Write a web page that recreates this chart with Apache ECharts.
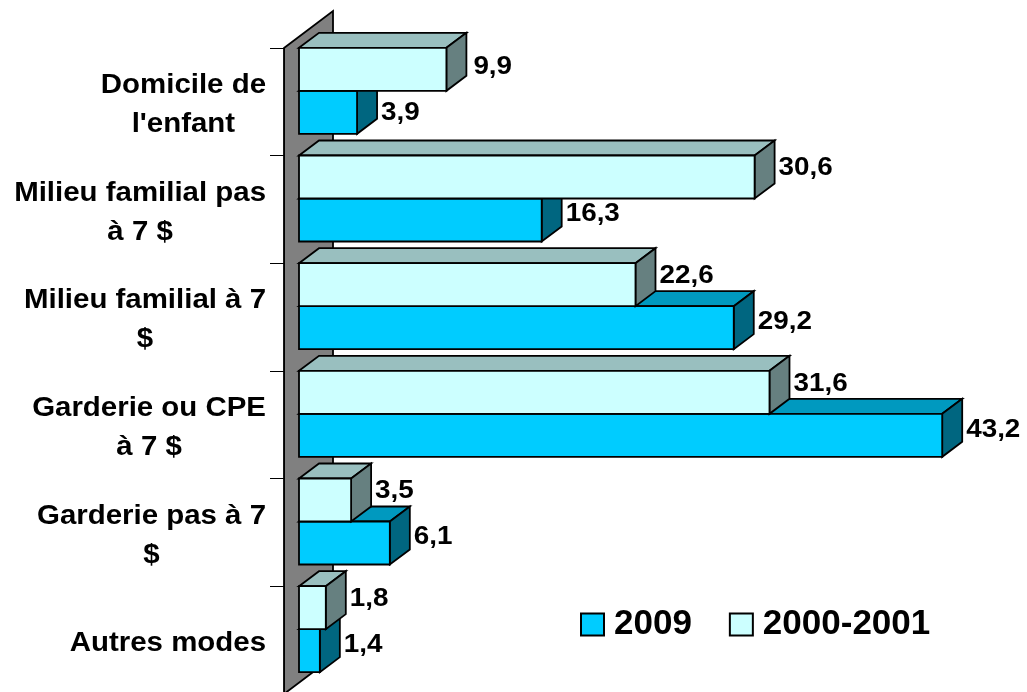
<!DOCTYPE html>
<html>
<head>
<meta charset="utf-8">
<style>
  html, body { margin: 0; padding: 0; background: #fff; }
  #chart { width: 1027px; height: 692px; }
</style>
<script src="https://cdn.jsdelivr.net/npm/echarts@6/dist/echarts.min.js"></script>
</head>
<body>
<div id="chart"></div>
<script>
const categories = ["Domicile de\nl'enfant", "Milieu familial pas\nà 7 $", "Milieu familial à 7\n$", "Garderie ou CPE\nà 7 $", "Garderie pas à 7\n$", "Autres modes"];
const values2009 = [3.9, 16.3, 29.2, 43.2, 6.1, 1.4];
const values2000 = [9.9, 30.6, 22.6, 31.6, 3.5, 1.8];

const FONT = '"Liberation Sans", Arial, sans-serif';
const DEPTH_X = 20, DEPTH_Y = -15;   // profondeur des barres
const BAR_H = 43;

const measure = document.createElement('canvas').getContext('2d');
measure.font = 'bold 27.5px ' + FONT;
const labelWidth = (txt) => Math.max(...txt.split('\n').map(l => measure.measureText(l).width));

const poly = (pts, fill) => ({
  type: 'polygon',
  shape: { points: pts },
  style: { fill: fill, stroke: '#000', lineWidth: 1.8, lineJoin: 'miter' }
});

// une barre 3D : front, dessus, cote + etiquette
const barSeries = (name, data, colors, barTop, labelShift) => ({
  name: name,
  type: 'custom',
  silent: true,
  clip: false,
  encode: { x: 0, y: 1 },
  data: data.map((v, i) => [v, i]),
  itemStyle: { color: colors.front, borderColor: '#000', borderWidth: 1.5 },
  renderItem: (params, api) => {
    const end = api.coord([api.value(0), api.value(1)]);
    const start = api.coord([0, api.value(1)]);
    const y0 = end[1] + barTop, y1 = y0 + BAR_H;
    const x0 = start[0], x1 = end[0];
    // les etiquettes du premier groupe sont un peu plus bas
    const first = api.value(1) === 0;
    return {
      type: 'group',
      children: [
        poly([[x0, y0], [x0 + DEPTH_X, y0 + DEPTH_Y], [x1 + DEPTH_X, y0 + DEPTH_Y], [x1, y0]], colors.top),
        poly([[x1, y0], [x1 + DEPTH_X, y0 + DEPTH_Y], [x1 + DEPTH_X, y1 + DEPTH_Y], [x1, y1]], colors.side),
        poly([[x0, y0], [x1, y0], [x1, y1], [x0, y1]], colors.front),
        {
          type: 'text',
          x: x1 + 24 + (first && barTop < -20 ? 3 : 0),
          y: y0 + BAR_H / 2 + labelShift + (first ? 6 : 0),
          scaleX: 1.07,
          style: {
            text: api.value(0).toFixed(1).replace('.', ','),
            font: 'bold 26px ' + FONT,
            fill: '#000',
            align: 'left',
            verticalAlign: 'middle'
          }
        }
      ]
    };
  }
});

const option = {
  animation: false,
  backgroundColor: '#fff',
  grid: { left: 299, top: 48, width: 670, height: 646, outerBoundsMode: 'none' },
  xAxis: { type: 'value', min: 0, max: 45, show: false },
  yAxis: {
    type: 'category',
    inverse: true,
    data: categories,
    offset: 15,
    z: 5,
    axisLine: { show: true, onZero: false, lineStyle: { color: '#000', width: 1 } },
    axisTick: { show: true, length: 14, lineStyle: { color: '#000', width: 1 } },
    axisLabel: { show: false },
    splitLine: { show: false }
  },
  legend: {
    data: ['2009', '2000-2001'],
    left: 580,
    top: 607,
    padding: 0,
    itemWidth: 23,
    itemHeight: 22,
    itemGap: 37,
    icon: 'rect',
    selectedMode: false,
    textStyle: { fontFamily: FONT, fontWeight: 'bold', fontSize: 35, color: '#000', padding: [0, 0, 0, 5] }
  },
  series: [
    {
      // mur vertical gris
      name: 'mur',
      type: 'custom',
      silent: true,
      clip: false,
      data: [[0, 0]],
      encode: { x: 0, y: 1 },
      renderItem: (params, api) => {
        const band = api.size([0, 1])[1];
        const x = api.coord([0, 0])[0] - 15;
        const top = api.coord([0, 0])[1] - band / 2;
        const bottom = api.coord([0, categories.length - 1])[1] + band / 2;
        return poly([[x, top], [x + 49, top - 37], [x + 49, bottom - 37], [x, bottom]], '#808080');
      }
    },
    barSeries('2009', values2009, { front: '#00CCFF', top: '#0099BF', side: '#006680' }, -11, -6),
    barSeries('2000-2001', values2000, { front: '#CCFFFF', top: '#99BFBF', side: '#668080' }, -54, -9),
    {
      // libelles des categories (centres ligne a ligne, bloc cale a droite)
      name: 'libelles',
      type: 'custom',
      silent: true,
      clip: false,
      data: categories.map((c, i) => [0, i]),
      encode: { x: 0, y: 1 },
      renderItem: (params, api) => {
        const p = api.coord([0, api.value(1)]);
        const txt = categories[api.value(1)];
        return {
          type: 'text',
          x: p[0] - 33 - labelWidth(txt) * 1.07 / 2,
          y: p[1] + 3,
          scaleX: 1.07,
          style: {
            text: txt,
            font: 'bold 27.5px ' + FONT,
            lineHeight: 39,
            fill: '#000',
            align: 'center',
            verticalAlign: 'middle'
          }
        };
      }
    }
  ]
};

const chart = echarts.init(document.getElementById('chart'), null, { renderer: 'canvas' });
chart.setOption(option);
</script>
</body>
</html>
